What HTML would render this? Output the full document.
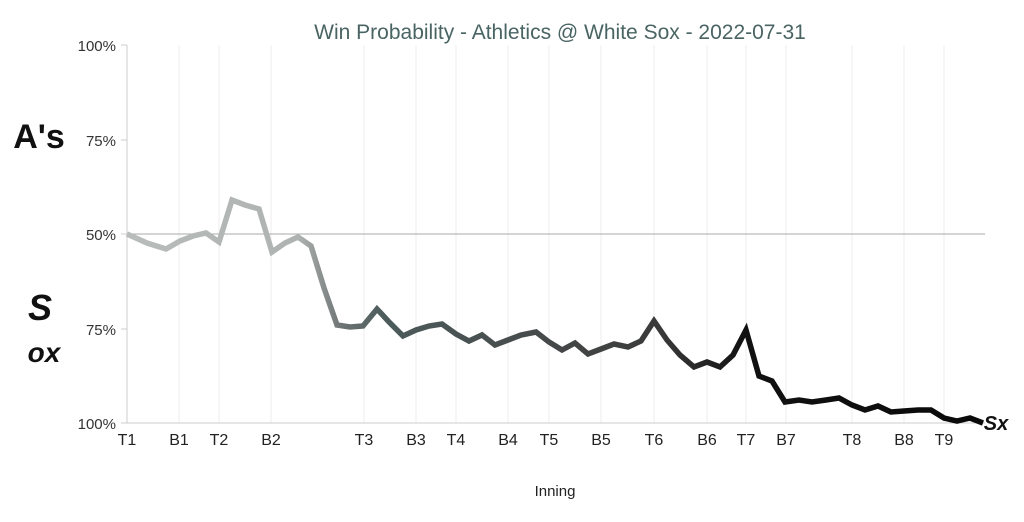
<!DOCTYPE html>
<html><head><style>
body{margin:0;background:#fff;}
text{font-family:"Liberation Sans Narrow","Liberation Sans",sans-serif;}
</style></head><body>
<svg width="1024" height="517" viewBox="0 0 1024 517" xmlns="http://www.w3.org/2000/svg">
<defs>
<linearGradient id="g" x1="127" y1="0" x2="985" y2="0" gradientUnits="userSpaceOnUse">
<stop offset="0" stop-color="#b8bcba"/>
<stop offset="0.2" stop-color="#aeb3b1"/>
<stop offset="0.25" stop-color="#6e7474"/>
<stop offset="0.3" stop-color="#4d5b5b"/>
<stop offset="0.5" stop-color="#454848"/>
<stop offset="0.62" stop-color="#3a3a3a"/>
<stop offset="0.72" stop-color="#111"/>
<stop offset="1" stop-color="#0a0a0a"/>
</linearGradient>
</defs>
<text x="560" y="39" text-anchor="middle" font-size="21" fill="#4a6464">Win Probability - Athletics @ White Sox - 2022-07-31</text>
<g stroke="#eee" stroke-width="1">
<line x1="179" y1="45" x2="179" y2="423"/><line x1="219" y1="45" x2="219" y2="423"/><line x1="271" y1="45" x2="271" y2="423"/><line x1="364" y1="45" x2="364" y2="423"/><line x1="416" y1="45" x2="416" y2="423"/><line x1="456" y1="45" x2="456" y2="423"/><line x1="508" y1="45" x2="508" y2="423"/><line x1="549" y1="45" x2="549" y2="423"/><line x1="601" y1="45" x2="601" y2="423"/><line x1="654" y1="45" x2="654" y2="423"/><line x1="707" y1="45" x2="707" y2="423"/><line x1="746" y1="45" x2="746" y2="423"/><line x1="786" y1="45" x2="786" y2="423"/><line x1="852" y1="45" x2="852" y2="423"/><line x1="904" y1="45" x2="904" y2="423"/><line x1="944" y1="45" x2="944" y2="423"/>
</g>
<line x1="127" y1="234" x2="985" y2="234" stroke="#aaa" stroke-width="1"/>
<line x1="127" y1="45" x2="127" y2="423" stroke="#ccc"/>
<line x1="127" y1="423" x2="985" y2="423" stroke="#ccc"/>
<g stroke="#ccc"><line x1="121" y1="45" x2="127" y2="45"/><line x1="121" y1="140" x2="127" y2="140"/><line x1="121" y1="234" x2="127" y2="234"/><line x1="121" y1="329" x2="127" y2="329"/><line x1="121" y1="423" x2="127" y2="423"/></g>
<g font-size="15" fill="#333" text-anchor="end">
<text x="116" y="51">100%</text><text x="116" y="146">75%</text><text x="116" y="240">50%</text><text x="116" y="335">75%</text><text x="116" y="429">100%</text>
</g>
<g font-size="16" fill="#222" text-anchor="middle">
<text x="127" y="445">T1</text><text x="179" y="445">B1</text><text x="219" y="445">T2</text><text x="271" y="445">B2</text><text x="364" y="445">T3</text><text x="416" y="445">B3</text><text x="456" y="445">T4</text><text x="508" y="445">B4</text><text x="549" y="445">T5</text><text x="601" y="445">B5</text><text x="654" y="445">T6</text><text x="707" y="445">B6</text><text x="746" y="445">T7</text><text x="786" y="445">B7</text><text x="852" y="445">T8</text><text x="904" y="445">B8</text><text x="944" y="445">T9</text>
</g>
<text x="555" y="496" text-anchor="middle" font-size="15" fill="#222">Inning</text>
<polyline fill="none" stroke="url(#g)" stroke-width="5.5" stroke-linejoin="miter" points="127,234 147,243 166,249 180,241 193,236 206,233 219,242 232,200 245,205 259,209 272,252 285,243 298,237 311,246 324,288 337,325 350,327 363,326 377,309 390,323 403,336 416,330 429,326 442,324 456,334 469,341 482,335 495,345 508,340 521,335 536,332 549,342 562,350 575,343 588,354 601,349 614,344 628,347 641,341 654,321 667,340 680,355 694,367 707,362 720,367 733,355 746,330 759,376 772,381 785,402 799,400 812,402 826,400 839,398 852,405 865,410 878,406 891,412 904,411 918,410 931,410 944,418 957,421 970,418 983,423"/>
<text x="39" y="148" text-anchor="middle" font-family="'Liberation Serif',serif" font-weight="bold" font-size="34" fill="#111">A's</text>
<text x="40" y="320" text-anchor="middle" font-family="'Liberation Serif',serif" font-weight="bold" font-style="italic" font-size="36" fill="#111">S</text>
<text x="44" y="362" text-anchor="middle" font-family="'Liberation Serif',serif" font-weight="bold" font-style="italic" font-size="28" fill="#111">ox</text>
<text x="996" y="430" text-anchor="middle" font-family="'Liberation Serif',serif" font-weight="bold" font-style="italic" font-size="20" fill="#111">Sx</text>
</svg>
</body></html>
